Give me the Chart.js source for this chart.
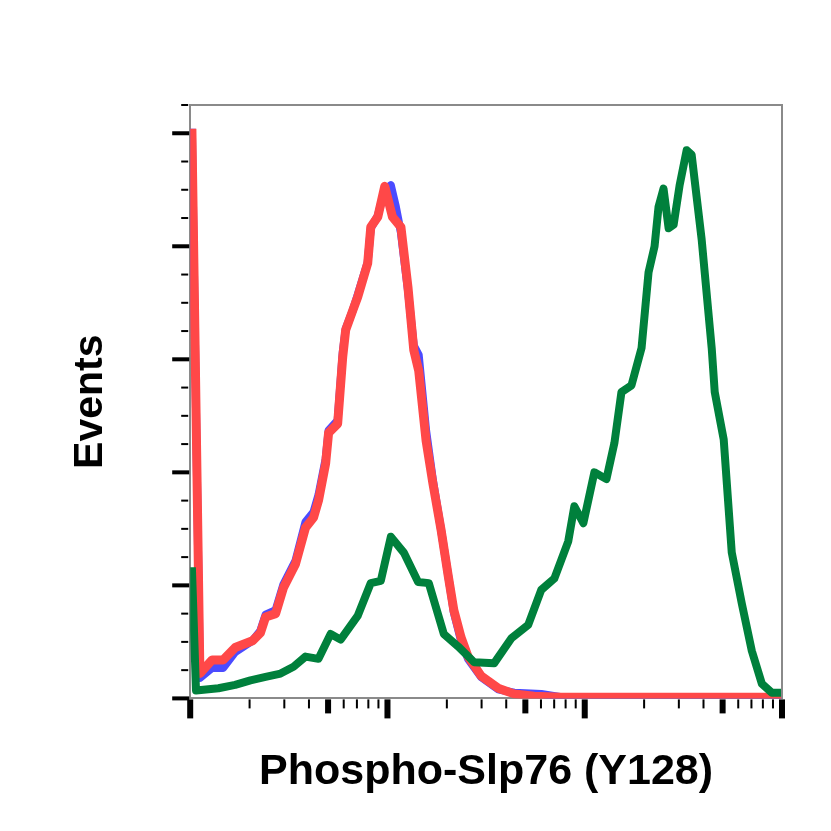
<!DOCTYPE html>
<html>
<head>
<meta charset="utf-8">
<script src="https://cdn.jsdelivr.net/npm/chart.js@4.4.1/dist/chart.umd.min.js"></script>
<style>
  html, body { margin: 0; padding: 0; background: #fff; }
  #wrap { width: 831px; height: 831px; }
</style>
</head>
<body>
<div id="wrap"><canvas id="histo" width="831" height="831"></canvas></div>
<script>
// fluorescence channel (log scale) and event heights
const redX = [10.2, 11.2, 12.9, 14.7, 16.9, 20.7, 22.7, 24.1, 27.1, 29.7, 34.2, 38.4, 42.2, 44.7, 48.6, 50.3,
  55.9, 59.3, 61.4, 66.6, 70.6, 79.4, 82.3, 89.3, 96.9, 106, 117, 127, 136, 144, 157, 170, 187, 203, 217,
  236, 256, 298, 364, 439, 554, 760, 10000];
const redY = [5.04, 0.22, 0.34, 0.34, 0.45, 0.51, 0.58, 0.72, 0.75, 0.98, 1.19, 1.51, 1.60, 1.75, 2.08, 2.35,
  2.43, 3.02, 3.26, 3.43, 3.55, 3.85, 4.17, 4.26, 4.53, 4.26, 4.17, 3.64, 3.08, 2.90, 2.28, 1.90, 1.49, 1.09, 0.78,
  0.54, 0.37, 0.20, 0.09, 0.04, 0.02, 0.01, 0.01];

const blueX = [10.2, 11.2, 12.9, 14.7, 16.9, 20.7, 22.7, 24.1, 27.1, 29.7, 34.2, 38.4, 42.2, 44.7, 48.6, 50.3,
  55.9, 59.3, 61.4, 66.6, 70.6, 79.4, 82.3, 89.3, 96.9, 104, 110, 117, 127, 136, 144, 157, 170, 187, 203, 217,
  236, 256, 298, 364, 439, 602, 760, 10000];
const blueY = [5.04, 0.18, 0.27, 0.27, 0.41, 0.51, 0.60, 0.74, 0.78, 1.01, 1.22, 1.56, 1.65, 1.80, 2.12, 2.37,
  2.46, 3.06, 3.27, 3.43, 3.57, 3.86, 4.16, 4.27, 4.50, 4.54, 4.36, 4.12, 3.61, 3.12, 3.04, 2.37, 1.93, 1.49, 1.09, 0.76,
  0.51, 0.35, 0.19, 0.08, 0.05, 0.04, 0.01, 0.01];

const greenX = [10.2, 10.7, 13.9, 16.9, 20.2, 24.1, 28.7, 33.4, 38.4, 44.7, 51.5, 57.9, 70.6, 82.3, 92.5, 104,
  121, 143, 162, 193, 228, 275, 347, 424, 517, 602, 701, 825, 886, 984, 1119, 1288, 1414, 1535, 1726, 1941,
  2106, 2259, 2367, 2509, 2662, 2822, 3027, 3286, 3483, 3915, 4402, 4560, 5064, 5563, 6254, 7031, 7905, 8884, 10000];
const greenY = [1.16, 0.07, 0.09, 0.12, 0.16, 0.19, 0.22, 0.28, 0.37, 0.35, 0.57, 0.52, 0.73, 1.02, 1.04, 1.43,
  1.29, 1.03, 1.02, 0.57, 0.46, 0.32, 0.31, 0.53, 0.65, 0.96, 1.06, 1.39, 1.70, 1.55, 2.00, 1.94, 2.26, 2.71, 2.77, 3.10,
  3.77, 4.00, 4.35, 4.51, 4.16, 4.19, 4.54, 4.85, 4.81, 4.06, 3.10, 2.71, 2.29, 1.29, 0.84, 0.42, 0.13, 0.05, 0.05];

// axis tick marks (no labels in the original)
const xMajorTicks = [10, 100, 1000, 10000];
const xMidTicks = [50, 500, 5000];
const xMinorTicks = [20, 30, 40, 60, 70, 80, 90, 200, 300, 400, 600, 700, 800, 900,
  2000, 3000, 4000, 6000, 7000, 8000, 9000];
const yMajorTicks = [0, 1, 2, 3, 4, 5];
const yMinorTicks = [0.25, 0.5, 0.75, 1.25, 1.5, 1.75, 2.25, 2.5, 2.75, 3.25, 3.5, 3.75,
  4.25, 4.5, 4.75, 5.25];

function toPoints(xs, ys) {
  return xs.map((x, i) => ({ x: x, y: ys[i] }));
}

// draws frame + the three sizes of tick marks using the chart's scales
const tickMarks = {
  id: 'tickMarks',
  afterDraw(chart) {
    const { ctx, chartArea: a } = chart;
    const xs = chart.scales.x, ys = chart.scales.y;
    ctx.save();
    ctx.strokeStyle = '#8a8a8a';
    ctx.lineWidth = 2;
    ctx.beginPath();
    ctx.moveTo(a.left, a.top);
    ctx.lineTo(a.right, a.top);
    ctx.lineTo(a.right, a.bottom);
    ctx.stroke();

    ctx.fillStyle = '#000';
    yMajorTicks.forEach(v => {
      const py = ys.getPixelForValue(v);
      ctx.fillRect(a.left - 18, py - 2, 17, 4);
    });
    yMinorTicks.forEach(v => {
      const py = ys.getPixelForValue(v);
      ctx.fillRect(a.left - 9, py - 1, 7, 2);
    });
    xMajorTicks.forEach(v => {
      const px = xs.getPixelForValue(v);
      ctx.fillRect(px - 3, a.bottom + 1, 6, 19);
    });
    xMidTicks.forEach(v => {
      const px = xs.getPixelForValue(v);
      ctx.fillRect(px - 3, a.bottom + 1, 6, 14);
    });
    xMinorTicks.forEach(v => {
      const px = xs.getPixelForValue(v);
      ctx.fillRect(px - 1, a.bottom + 1, 2, 9);
    });
    ctx.restore();
  }
};

const lineStyle = { pointRadius: 0, tension: 0, borderJoinStyle: 'round', borderCapStyle: 'butt', fill: false };

new Chart(document.getElementById('histo'), {
  type: 'line',
  data: {
    datasets: [
      { label: 'Treated', data: toPoints(greenX, greenY), borderColor: '#00803c', borderWidth: 8, ...lineStyle },
      { label: 'Isotype', data: toPoints(redX, redY), borderColor: '#ff4848', borderWidth: 9, ...lineStyle },
      { label: 'Unstained', data: toPoints(blueX, blueY), borderColor: '#4b4bff', borderWidth: 8, ...lineStyle }
    ]
  },
  options: {
    responsive: false,
    animation: false,
    devicePixelRatio: 1,
    layout: { padding: { top: 105, right: 49, bottom: 0, left: 0 } },
    plugins: { legend: { display: false }, tooltip: { enabled: false } },
    scales: {
      x: {
        type: 'logarithmic',
        min: 10,
        max: 10000,
        ticks: { display: false },
        grid: { display: false, drawTicks: false },
        border: { display: true, color: '#8a8a8a', width: 2 },
        title: {
          display: true,
          text: 'Phospho-Slp76 (Y128)',
          color: '#000',
          font: { family: 'Liberation Sans, Arial, sans-serif', size: 43, weight: 'bold', lineHeight: 1.2 },
          padding: { top: 48, bottom: 33 }
        }
      },
      y: {
        min: 0,
        max: 5.25,
        ticks: { display: false },
        grid: { display: false, drawTicks: false },
        border: { display: true, color: '#8a8a8a', width: 2 },
        title: {
          display: true,
          text: 'Events',
          color: '#000',
          font: { family: 'Liberation Sans, Arial, sans-serif', size: 41, weight: 'bold', lineHeight: 1.2 },
          padding: { top: 66, bottom: 75 }
        }
      }
    }
  },
  plugins: [tickMarks]
});
</script>
</body>
</html>
